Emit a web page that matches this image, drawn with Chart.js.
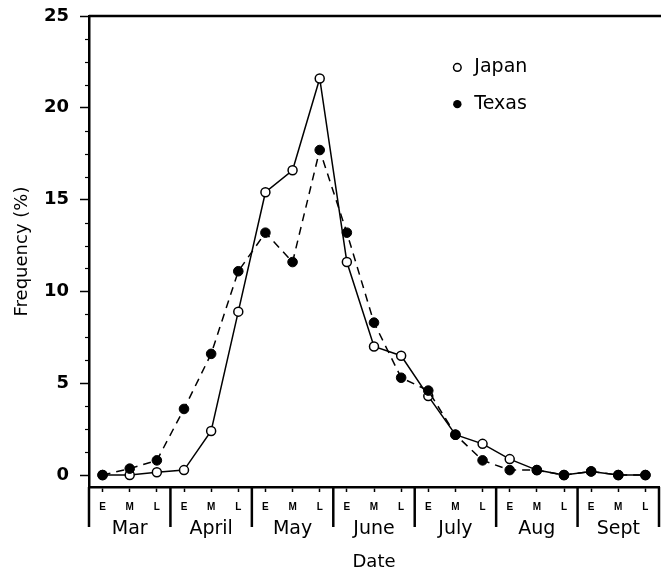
<!DOCTYPE html>
<html>
<head>
<meta charset="utf-8">
<script src="https://cdn.jsdelivr.net/npm/chart.js@4"></script>
<style>
  body { margin: 0; background: #fff; overflow: hidden; }
  #wrap { width: 665px; height: 573px; }
</style>
</head>
<body>
<div id="wrap"><canvas id="myChart" width="665" height="573"></canvas></div>
<script>
// data
const months = ['Mar', 'April', 'May', 'June', 'July', 'Aug', 'Sept']
const periods = ['E', 'M', 'L']
const japan = [0, 0, 0.15, 0.27, 2.4, 8.9, 15.4, 16.6, 21.6, 11.6, 7.0, 6.5, 4.3, 2.2, 1.7, 0.87, 0.27, 0, 0.2, 0, 0]
const texas = [0, 0.35, 0.8, 3.6, 6.6, 11.1, 13.2, 11.6, 17.7, 13.2, 8.3, 5.3, 4.6, 2.2, 0.8, 0.27, 0.27, 0, 0.2, 0, 0]
const yTicks = [0, 5, 10, 15, 20, 25]

let labels = []
months.forEach(function (m) {
    periods.forEach(function (p) { labels.push(p) })
})

const FONT = "'DejaVu Sans', sans-serif"
const SMALL = "'Liberation Sans', Arial, sans-serif"

// axis frame, minor ticks, month separators/labels and the legend
const decor = {
    id: 'decor',
    afterDraw(chart) {
        const ctx = chart.ctx
        const area = chart.chartArea
        const x = chart.scales.x
        const y = chart.scales.y
        ctx.save()
        ctx.strokeStyle = '#000'
        ctx.fillStyle = '#000'

        // top border
        ctx.lineWidth = 2.5
        ctx.beginPath()
        ctx.moveTo(area.left, area.top)
        ctx.lineTo(chart.width, area.top)
        ctx.stroke()

        // minor y ticks
        ctx.lineWidth = 1.2
        for (let v = 0; v <= 25; v += 1.25) {
            if (v % 5 === 0) continue
            let py = Math.round(y.getPixelForValue(v)) + 0.5
            ctx.beginPath()
            ctx.moveTo(area.left - 4, py)
            ctx.lineTo(area.left, py)
            ctx.stroke()
        }

        // month separators
        ctx.lineWidth = 2.5
        for (let i = 0; i <= months.length; i++) {
            let px = x.getPixelForValue(i * 3 - 0.5)
            ctx.beginPath()
            ctx.moveTo(px, area.bottom)
            ctx.lineTo(px, area.bottom + 40)
            ctx.stroke()
        }

        // month names
        ctx.font = '19px ' + FONT
        ctx.textAlign = 'center'
        ctx.textBaseline = 'middle'
        months.forEach(function (m, i) {
            ctx.fillText(m, x.getPixelForValue(i * 3 + 1), area.bottom + 42)
        })

        // legend
        let lx = x.getPixelForValue(13.07)
        let ly1 = y.getPixelForValue(22.2)
        let ly2 = y.getPixelForValue(20.2)
        ctx.lineWidth = 1.5
        ctx.beginPath()
        ctx.arc(lx, ly1, 3.8, 0, Math.PI * 2)
        ctx.fillStyle = '#fff'
        ctx.fill()
        ctx.stroke()
        ctx.fillStyle = '#000'
        ctx.beginPath()
        ctx.arc(lx, ly2, 4.2, 0, Math.PI * 2)
        ctx.fill()
        ctx.font = '19px ' + FONT
        ctx.textAlign = 'left'
        ctx.fillText('Japan', lx + 17, ly1)
        ctx.fillText('Texas', lx + 17, ly2)
        ctx.restore()
    }
}

const ctx = document.getElementById('myChart').getContext('2d')
var chart = new Chart(ctx, {
    type: 'line',
    data: {
        labels: labels,
        datasets: [{
            label: 'Japan',
            data: japan,
            order: 1,
            borderColor: '#000',
            borderWidth: 1.5,
            pointRadius: 4.5,
            pointBackgroundColor: '#fff',
            pointBorderColor: '#000',
            pointBorderWidth: 1.5,
            tension: 0
        }, {
            label: 'Texas',
            data: texas,
            order: 0,
            borderColor: '#000',
            borderWidth: 1.5,
            borderDash: [8, 6],
            pointRadius: 4.8,
            pointBackgroundColor: '#000',
            pointBorderColor: '#000',
            pointBorderWidth: 1,
            tension: 0
        }]
    },
    options: {
        responsive: false,
        animation: false,
        layout: { padding: { left: 0, top: 16, right: 1, bottom: 0 } },
        plugins: {
            legend: { display: false },
            tooltip: { enabled: false }
        },
        scales: {
            x: {
                type: 'category',
                offset: true,
                grid: { drawOnChartArea: false, tickLength: 5, tickWidth: 1.5, tickColor: '#000' },
                border: { display: true, color: '#000', width: 2.5 },
                ticks: {
                    color: '#000',
                    font: { family: SMALL, size: 10, weight: 'bold' },
                    padding: 9,
                    maxRotation: 0,
                    autoSkip: false
                },
                title: {
                    display: true,
                    text: 'Date',
                    color: '#000',
                    font: { family: FONT, size: 18 },
                    padding: { top: 0, bottom: 0 }
                },
                afterFit: function (scale) { scale.height = 86 }
            },
            y: {
                min: -0.65,
                max: 25,
                grid: { drawOnChartArea: false, tickLength: 9, tickWidth: 1.5, tickColor: '#000' },
                border: { display: true, color: '#000', width: 2.5 },
                ticks: {
                    color: '#000',
                    font: { family: FONT, size: 18, weight: 'bold', lineHeight: 0.4 },
                    padding: 11
                },
                afterBuildTicks: function (scale) {
                    scale.ticks = yTicks.map(function (v) { return { value: v } })
                },
                title: {
                    display: true,
                    text: 'Frequency (%)',
                    color: '#000',
                    font: { family: FONT, size: 18 },
                    padding: { top: 12, bottom: 0 }
                },
                afterFit: function (scale) { scale.width = 89 }
            }
        }
    },
    plugins: [decor]
})
</script>
</body>
</html>
